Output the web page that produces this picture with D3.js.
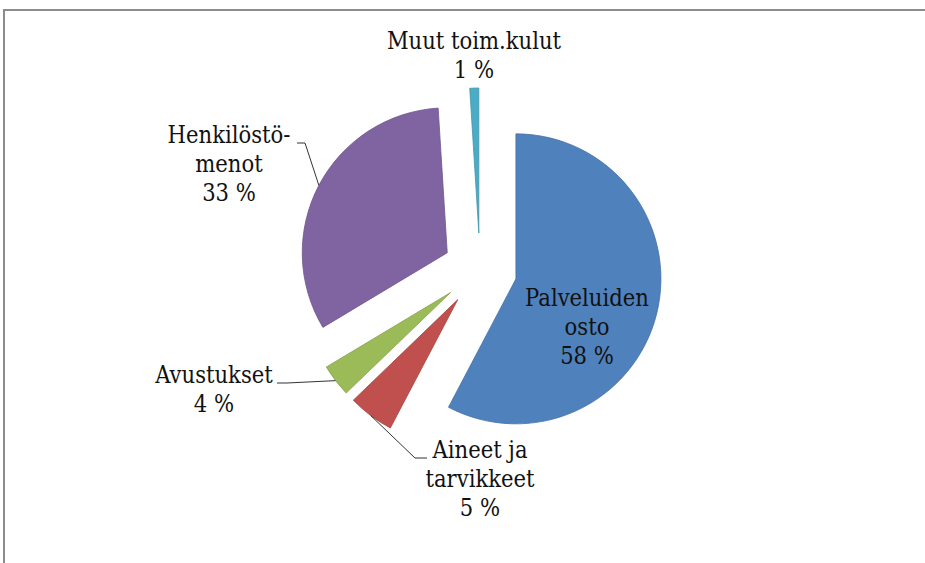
<!DOCTYPE html>
<html>
<head>
<meta charset="utf-8">
<script src="https://cdn.jsdelivr.net/npm/d3@7"></script>
<style>
  html, body { margin: 0; padding: 0; background: #fff; }
</style>
</head>
<body>
<div id="chart"></div>
<script>
// Data (share of total, %)
var categories = ["Palveluiden osto", "Aineet ja tarvikkeet", "Avustukset", "Henkilöstömenot", "Muut toim.kulut"];
var shares = [57.7, 5.1, 3.6, 32.6, 1.0];
// label text lines (percentage line is added from the values)
var labelLines = [["Palveluiden", "osto"], ["Aineet ja", "tarvikkeet"], ["Avustukset"], ["Henkilöstö-", "menot"], ["Muut toim.kulut"]];
var colors = ["#4F81BD", "#C0504D", "#9BBB59", "#8064A2", "#4BACC6"];

// layout
var width = 925, height = 563;
var cx = 480, cy = 270, radius = 145, explode = 37;
var fontSize = 23.5, lineH = 29;
var fontFamily = "'DejaVu Serif Condensed', 'DejaVu Serif', serif";

// label anchors: center x and first baseline; leader: elbow + end of the short horizontal tick
var labelPos = [
  {x: 587, y: 306, leader: null},
  {x: 480, y: 458, leader: [[415, 458], [427, 458]]},
  {x: 214, y: 383, leader: [[287, 383], [277, 383]]},
  {x: 229, y: 143, leader: [[305, 143], [297, 143]]},
  {x: 474, y: 49, leader: null}
];

var svg = d3.select("#chart").append("svg")
    .attr("width", width)
    .attr("height", height);

// frame (only top and left edges are inside the picture)
svg.append("path")
    .attr("d", "M4," + height + "V10H" + width)
    .attr("fill", "none")
    .attr("stroke", "#8c8c8c")
    .attr("stroke-width", 2);

var pie = d3.pie().sort(null).value(function(d) { return d; });
var arcs = pie(shares);

var arc = d3.arc().innerRadius(0).outerRadius(radius);

function offset(d, dist) {
  var a = (d.startAngle + d.endAngle) / 2;
  return [cx + dist * Math.sin(a), cy - dist * Math.cos(a)];
}

var g = svg.append("g");

g.selectAll(".slice")
    .data(arcs)
    .enter().append("path")
    .attr("class", "slice")
    .attr("transform", function(d) {
      var p = offset(d, explode);
      return "translate(" + p[0] + "," + p[1] + ")";
    })
    .attr("d", arc)
    .attr("fill", function(d, i) { return colors[i]; })
    .attr("stroke", function(d, i) { return d3.color(colors[i]).darker(0.4); })
    .attr("stroke-width", 0.8)
    .attr("stroke-linejoin", "round");

// leader lines: from the outer arc at mid angle to the label
g.selectAll(".leader")
    .data(arcs.filter(function(d, i) { return labelPos[i].leader; }))
    .enter().append("polyline")
    .attr("class", "leader")
    .attr("points", function(d) {
      var lp = labelPos[d.index].leader;
      var v = offset(d, explode);
      var a = (d.startAngle + d.endAngle) / 2;
      var start = [v[0] + radius * Math.sin(a), v[1] - radius * Math.cos(a)];
      return [start, lp[0], lp[1]].map(function(p) { return p.join(","); }).join(" ");
    })
    .attr("fill", "none")
    .attr("stroke", "#333")
    .attr("stroke-width", 1);

// labels
var labels = g.selectAll(".label")
    .data(arcs)
    .enter().append("text")
    .attr("class", "label")
    .attr("text-anchor", "middle")
    .attr("font-family", fontFamily)
    .attr("font-size", fontSize)
    .style("font-stretch", "condensed")
    .attr("fill", "#111");

labels.each(function(d, i) {
  var t = d3.select(this);
  var lines = labelLines[i].concat([Math.round(shares[i]) + " %"]);
  lines.forEach(function(s, k) {
    t.append("tspan")
      .attr("x", labelPos[i].x)
      .attr("y", labelPos[i].y + k * lineH)
      .text(s);
  });
});
</script>
</body>
</html>
